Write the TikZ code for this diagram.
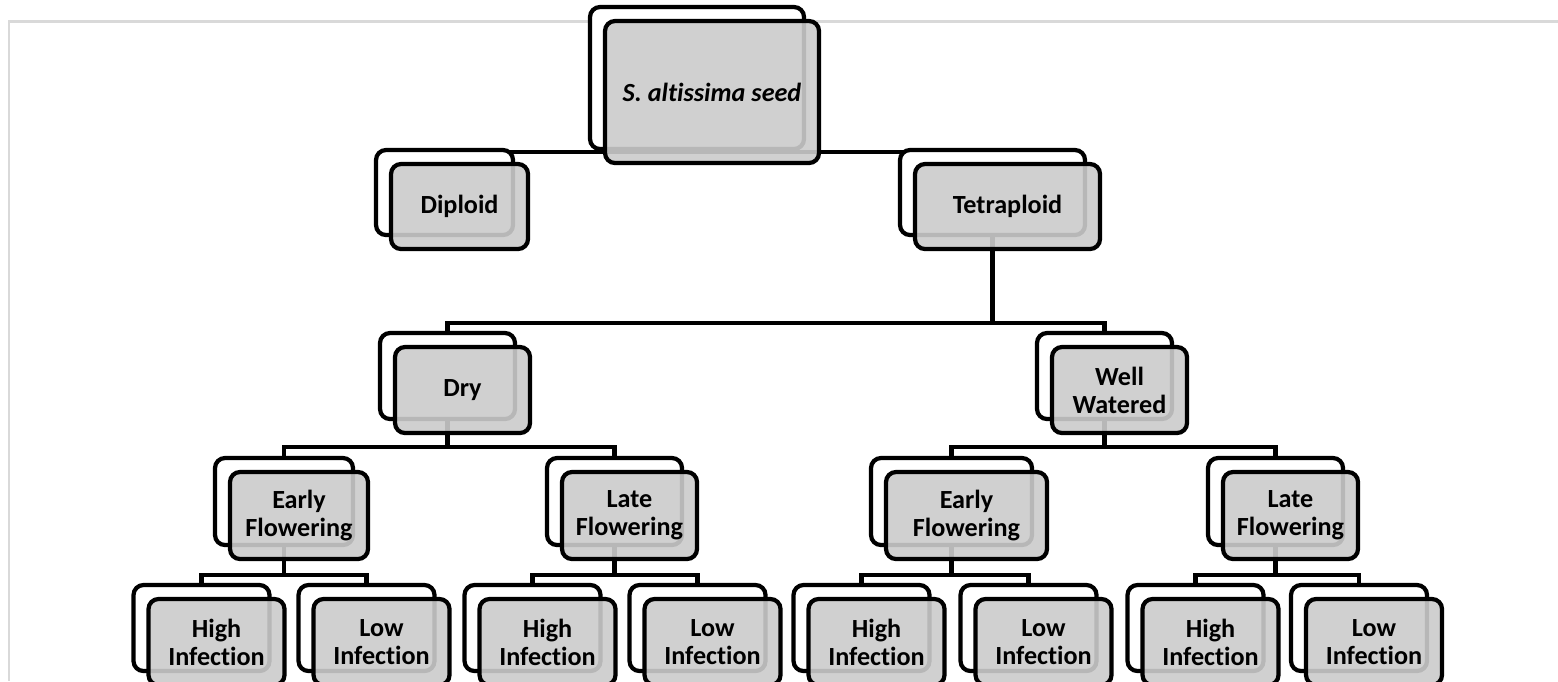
\documentclass[tikz,border=0pt]{standalone}
\usepackage{fontspec}
\setmainfont{Carlito}[Ligatures=NoCommon]
\usetikzlibrary{backgrounds}
\definecolor{box-gray}{HTML}{CBCBCB}
\definecolor{frame-gray}{HTML}{D9D9D9}

\tikzset{
  backbox/.style={draw=black, line width=2.4pt, fill=white, rounded corners=0.2cm, inner sep=0pt},
  frontbox/.style={draw=black, line width=2.4pt, fill=box-gray, fill opacity=0.9, text opacity=1,
    rounded corners=0.2cm, inner sep=0pt, align=center, font=\fontsize{14.9}{15.9}\selectfont\bfseries},
  link/.style={line width=2.4pt}
}
% name, x, y, width, height, text
\newcommand{\pairbox}[6]{%
  \node[backbox, minimum width=#4*0.02cm, minimum height=#5*0.02cm] (#1) at (#2,#3) {};
  \node[frontbox, minimum width=#4*0.02cm, minimum height=#5*0.02cm] (#1-f) at ([shift={(15,14)}]#1.center) {#6};}

\begin{document}
\begin{tikzpicture}[x=0.02cm,y=-0.02cm]
	\useasboundingbox (0,0) rectangle (1558,681);
	\clip (0,0) rectangle (1558,681);
	\draw[frame-gray, line width=1.7pt] (1558,21) -- (9,21) -- (9,681);

	\pairbox{seed}{697}{78}{214}{142}{\textit{S. altissima seed}}
	\pairbox{dip}{444.5}{192.5}{137}{85}{Diploid}
	\pairbox{tet}{992.5}{192.5}{185}{85}{Tetraploid}
	\pairbox{dry}{447.5}{376}{135}{86}{Dry}
	\pairbox{well}{1104.5}{376}{135}{86}{Well\\Watered}
	\pairbox{ef1}{284}{501.5}{138}{87}{Early\\Flowering}
	\pairbox{lf1}{614.5}{501.5}{135}{87}{Late\\Flowering}
	\pairbox{ef2}{951.5}{501.5}{161}{87}{Early\\Flowering}
	\pairbox{lf2}{1275.5}{501.5}{135}{87}{Late\\Flowering}
	\foreach \n/\x/\t in {hi1/201.5/High, lo1/366.5/Low, hi2/532.5/High, lo2/697.5/Low,
		hi3/861.5/High, lo3/1028.5/Low, hi4/1195.5/High, lo4/1359/Low}
		{\pairbox{\n}{\x}{628}{136}{86}{\t\\Infection}}

	\begin{scope}[on background layer]
		\foreach \p/\c/\g in {seed/dip/1, seed/tet/1, tet/dry/86, tet/well/86,
			dry/ef1/26, dry/lf1/26, well/ef2/26, well/lf2/26,
			ef1/hi1/28, ef1/lo1/28, lf1/hi2/28, lf1/lo2/28,
			ef2/hi3/28, ef2/lo3/28, lf2/hi4/28, lf2/lo4/28}
			{\draw[link] (\p.south) -- ++(0,\g) -| (\c.north);}
	\end{scope}
\end{tikzpicture}
\end{document}
